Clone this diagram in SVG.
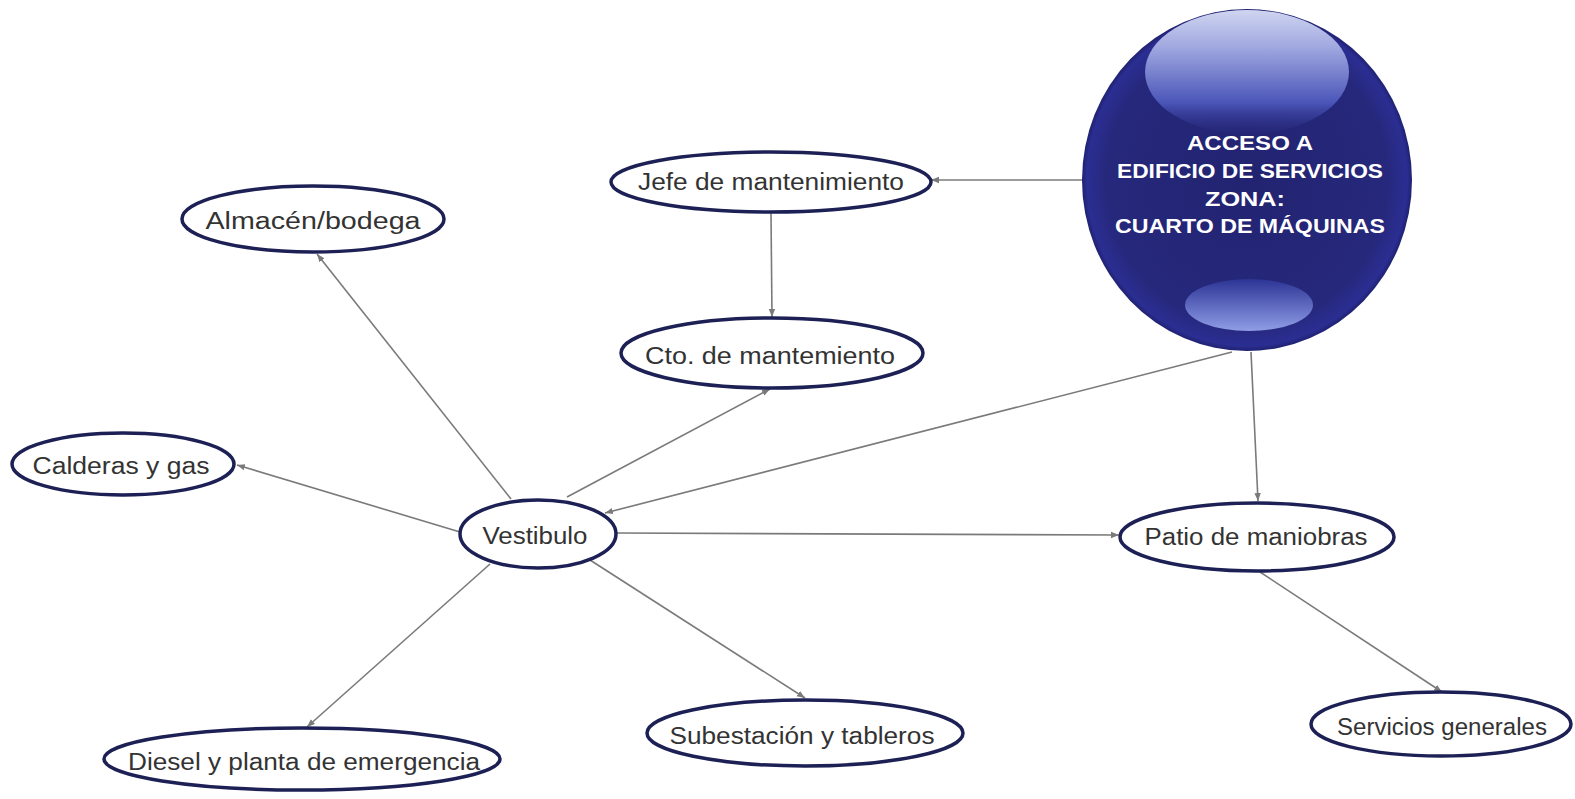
<svg xmlns="http://www.w3.org/2000/svg" width="1575" height="799" viewBox="0 0 1575 799">
<style>
.node ellipse{fill:#fff;stroke:#1d2054;stroke-width:3.5}
.node text{font-family:"Liberation Sans",Arial,sans-serif;font-size:23px;fill:#333;text-anchor:middle;dominant-baseline:central}
.conn line{stroke:#7a7a7a;stroke-width:1.6;fill:none;marker-end:url(#arr)}
.title{font-family:"Liberation Sans",Arial,sans-serif;font-weight:bold;font-size:21px;fill:#fff;text-anchor:middle;dominant-baseline:central}
</style>
<defs>
<marker id="arr" markerUnits="userSpaceOnUse" markerWidth="9" markerHeight="8" refX="8" refY="4" orient="auto">
<path d="M0,0.8 L8,4 L0,7.2 Z" fill="#7a7a7a"/>
</marker>
<radialGradient id="orb" cx="0.5" cy="0.5" r="0.5">
<stop offset="0" stop-color="#222370"/>
<stop offset="0.85" stop-color="#26287c"/>
<stop offset="0.97" stop-color="#2b2e92"/>
<stop offset="1" stop-color="#1f2170"/>
</radialGradient>
<linearGradient id="hiTop" x1="0" y1="0" x2="0" y2="1">
<stop offset="0" stop-color="#d0d5f0"/>
<stop offset="0.3" stop-color="#a0a8e0"/>
<stop offset="0.75" stop-color="#4a55b8"/>
<stop offset="1" stop-color="#26287c" stop-opacity="0.3"/>
</linearGradient>
<linearGradient id="hiBot" x1="0" y1="0" x2="0" y2="1">
<stop offset="0" stop-color="#2c3495"/>
<stop offset="1" stop-color="#8f9de6"/>
</linearGradient>
</defs>

<g id="connectors" class="conn">
<line x1="1083" y1="180" x2="931" y2="180"/>
<line x1="771" y1="213" x2="772" y2="317"/>
<line x1="567" y1="497" x2="770" y2="389"/>
<line x1="1232" y1="352" x2="605" y2="513"/>
<line x1="1251" y1="352" x2="1258" y2="501"/>
<line x1="617" y1="533" x2="1119" y2="535"/>
<line x1="511" y1="499" x2="317" y2="254"/>
<line x1="460" y1="532" x2="237" y2="465"/>
<line x1="490" y1="564" x2="307" y2="727"/>
<line x1="590" y1="560" x2="805" y2="698"/>
<line x1="1260" y1="572" x2="1442" y2="692"/>
</g>

<g id="acceso">
<ellipse cx="1247" cy="180" rx="165" ry="171" fill="url(#orb)"/>
<ellipse cx="1247" cy="72" rx="102" ry="62" fill="url(#hiTop)"/>
<ellipse cx="1249" cy="305" rx="64" ry="26" fill="url(#hiBot)"/>
<text class="title" x="1250" y="142" textLength="126" lengthAdjust="spacingAndGlyphs">ACCESO A</text>
<text class="title" x="1250" y="170" textLength="266" lengthAdjust="spacingAndGlyphs">EDIFICIO DE SERVICIOS</text>
<text class="title" x="1245" y="198" textLength="80" lengthAdjust="spacingAndGlyphs">ZONA:</text>
<text class="title" x="1250" y="225" textLength="270" lengthAdjust="spacingAndGlyphs">CUARTO DE MÁQUINAS</text>
</g>

<g id="jefe" class="node">
<ellipse cx="771" cy="182" rx="160" ry="30"/>
<text x="771" y="182" textLength="266" lengthAdjust="spacingAndGlyphs">Jefe de mantenimiento</text>
</g>
<g id="cto" class="node">
<ellipse cx="772" cy="353" rx="151" ry="35"/>
<text x="770" y="356" textLength="250" lengthAdjust="spacingAndGlyphs">Cto. de mantemiento</text>
</g>
<g id="almacen" class="node">
<ellipse cx="313" cy="219" rx="131" ry="33"/>
<text x="313" y="221" textLength="215" lengthAdjust="spacingAndGlyphs">Almacén/bodega</text>
</g>
<g id="calderas" class="node">
<ellipse cx="123" cy="464" rx="111" ry="31"/>
<text x="121" y="466" textLength="177" lengthAdjust="spacingAndGlyphs">Calderas y gas</text>
</g>
<g id="vestibulo" class="node">
<ellipse cx="538" cy="534" rx="78" ry="34"/>
<text x="535" y="536" textLength="105" lengthAdjust="spacingAndGlyphs">Vestibulo</text>
</g>
<g id="patio" class="node">
<ellipse cx="1257" cy="537" rx="137" ry="34"/>
<text x="1256" y="537" textLength="223" lengthAdjust="spacingAndGlyphs">Patio de maniobras</text>
</g>
<g id="diesel" class="node">
<ellipse cx="302" cy="759" rx="198" ry="31"/>
<text x="304" y="762" textLength="352" lengthAdjust="spacingAndGlyphs">Diesel y planta de emergencia</text>
</g>
<g id="subestacion" class="node">
<ellipse cx="805" cy="733" rx="158" ry="33"/>
<text x="802" y="736" textLength="265" lengthAdjust="spacingAndGlyphs">Subestación y tableros</text>
</g>
<g id="servicios" class="node">
<ellipse cx="1441" cy="724" rx="130" ry="32"/>
<text x="1442" y="727" textLength="210" lengthAdjust="spacingAndGlyphs">Servicios generales</text>
</g>
</svg>
